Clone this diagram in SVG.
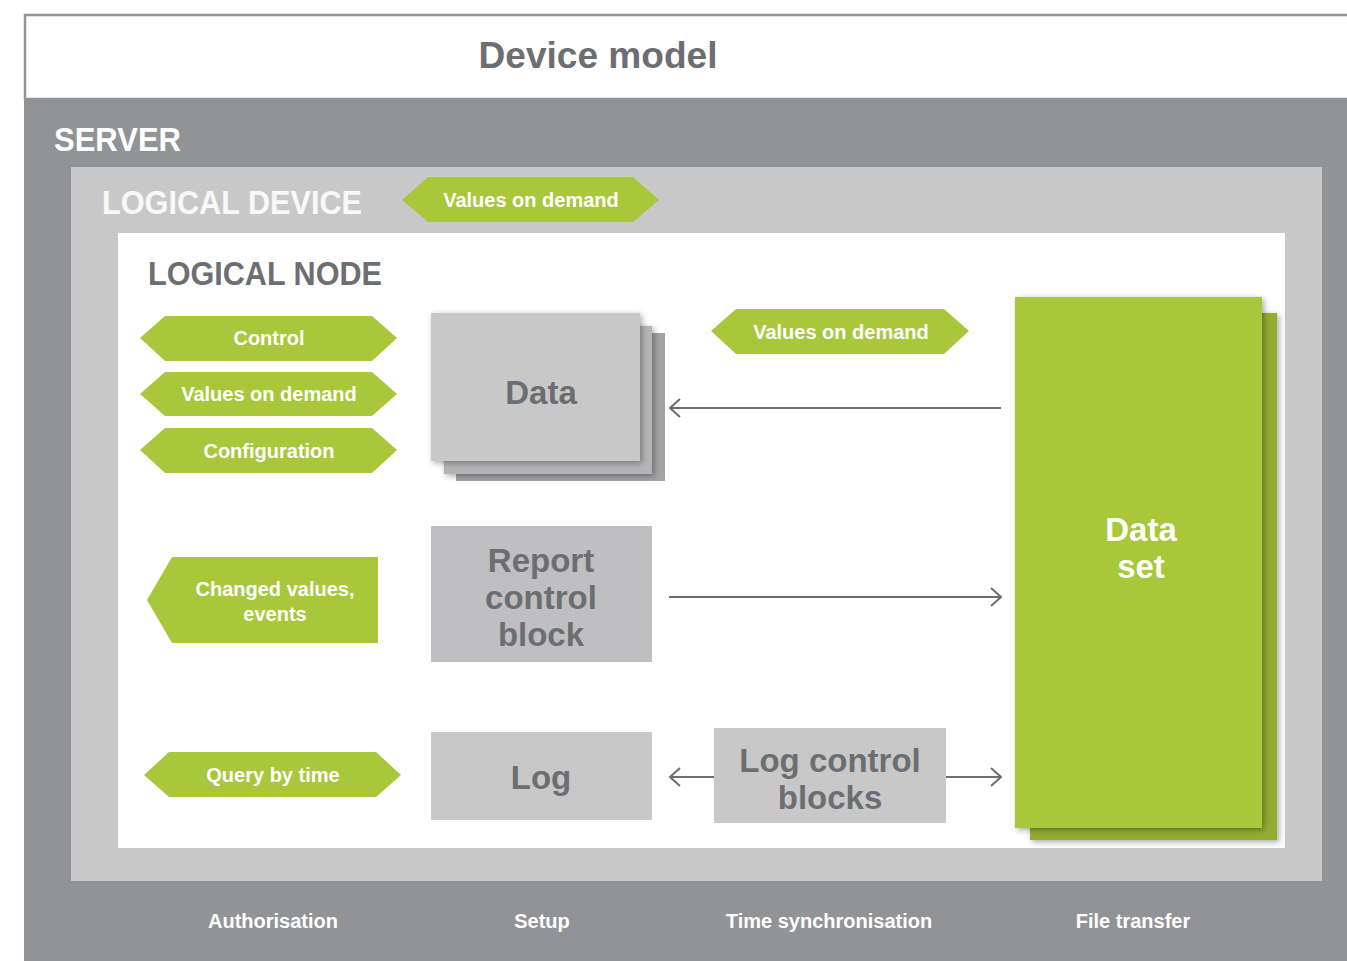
<svg xmlns="http://www.w3.org/2000/svg" width="1347" height="961" viewBox="0 0 1347 961">
<style>
.t{font-family:"Liberation Sans",Arial,sans-serif;font-weight:bold}
.w{fill:#ffffff}
.d{fill:#6d6e71}
.hex{fill:#a8c73a}
.box{fill:#c8c8c8}
.conn{stroke:#6d6e71;stroke-width:2;fill:none}
</style>
<defs>
<filter id="sh" x="-10%" y="-10%" width="130%" height="130%">
<feGaussianBlur in="SourceAlpha" stdDeviation="3"/>
<feOffset dx="2" dy="2" result="b"/>
<feComponentTransfer><feFuncA type="linear" slope="0.35"/></feComponentTransfer>
<feMerge><feMergeNode/><feMergeNode in="SourceGraphic"/></feMerge>
</filter>
<marker id="ah" viewBox="0 0 12 20" refX="11" refY="10" markerWidth="12" markerHeight="20" markerUnits="userSpaceOnUse" orient="auto">
<path d="M1,1 L11,10 L1,19" fill="none" stroke="#6d6e71" stroke-width="2"/>
</marker>
</defs>
<rect x="0" y="0" width="1347" height="961" fill="#ffffff"/>
<g id="device-model">
<rect x="25" y="15" width="1330" height="84" fill="#ffffff" stroke="#939498" stroke-width="2.5"/>
<text class="t d" x="598" y="68" font-size="37" text-anchor="middle" textLength="239" lengthAdjust="spacingAndGlyphs">Device model</text>
</g>
<g id="server">
<rect x="24" y="98" width="1323" height="863" fill="#929397"/>
<text class="t w" x="54" y="151" font-size="33" textLength="127" lengthAdjust="spacingAndGlyphs">SERVER</text>
<text class="t w" x="273" y="928" font-size="20" text-anchor="middle">Authorisation</text>
<text class="t w" x="542" y="928" font-size="20" text-anchor="middle">Setup</text>
<text class="t w" x="829" y="928" font-size="20" text-anchor="middle">Time synchronisation</text>
<text class="t w" x="1133" y="928" font-size="20" text-anchor="middle">File transfer</text>
</g>
<g id="logical-device">
<rect x="71" y="167" width="1251" height="714" fill="#c8c8c8"/>
<text class="t" fill="#f8f8f8" x="102" y="214" font-size="33" textLength="260" lengthAdjust="spacingAndGlyphs">LOGICAL DEVICE</text>
</g>
<g id="ld-values-on-demand">
<polygon class="hex" points="402,200 428,177 633,177 659,200 633,222 428,222"/>
<text class="t w" x="531" y="207" font-size="20" text-anchor="middle">Values on demand</text>
</g>
<g id="logical-node">
<rect x="118" y="233" width="1167" height="615" fill="#ffffff"/>
<text class="t d" x="148" y="285" font-size="33" textLength="234" lengthAdjust="spacingAndGlyphs">LOGICAL NODE</text>
</g>
<g id="control">
<polygon class="hex" points="140,338 165,316 372,316 397,338 372,361 165,361"/>
<text class="t w" x="269" y="345" font-size="20" text-anchor="middle">Control</text>
</g>
<g id="values-on-demand-left">
<polygon class="hex" points="140,394 165,372 372,372 397,394 372,416 165,416"/>
<text class="t w" x="269" y="401" font-size="20" text-anchor="middle">Values on demand</text>
</g>
<g id="configuration">
<polygon class="hex" points="140,450 165,428 372,428 397,450 372,473 165,473"/>
<text class="t w" x="269" y="458" font-size="20" text-anchor="middle">Configuration</text>
</g>
<g id="data">
<rect x="456" y="333" width="209" height="148" fill="#a2a3a5"/>
<rect x="444" y="326" width="208" height="148" fill="#b4b4b6" filter="url(#sh)"/>
<rect x="431" y="313" width="209" height="148" fill="#c8c8c8" filter="url(#sh)"/>
<text class="t d" x="541" y="404" font-size="33" text-anchor="middle">Data</text>
</g>
<g id="values-on-demand-right">
<polygon class="hex" points="711,331 736,309 944,309 969,331 944,354 736,354"/>
<text class="t w" x="841" y="339" font-size="20" text-anchor="middle">Values on demand</text>
</g>
<g id="data-set">
<rect x="1030" y="313" width="247" height="527" fill="#93ad33" filter="url(#sh)"/>
<rect x="1015" y="297" width="247" height="531" fill="#a8c73a" filter="url(#sh)"/>
<text class="t w" x="1141" y="541" font-size="33" text-anchor="middle">Data</text>
<text class="t w" x="1141" y="578" font-size="33" text-anchor="middle">set</text>
</g>
<g id="changed-values">
<polygon class="hex" points="147,600 172,557 378,557 378,643 172,643"/>
<text class="t w" x="275" y="596" font-size="20" text-anchor="middle">Changed values,</text>
<text class="t w" x="275" y="621" font-size="20" text-anchor="middle">events</text>
</g>
<g id="report-control-block">
<rect x="431" y="526" width="221" height="136" fill="#bfbfc1"/>
<text class="t d" x="541" y="572" font-size="33" text-anchor="middle">Report</text>
<text class="t d" x="541" y="609" font-size="33" text-anchor="middle">control</text>
<text class="t d" x="541" y="646" font-size="33" text-anchor="middle">block</text>
</g>
<g id="query-by-time">
<polygon class="hex" points="144,775 169,752 376,752 401,775 376,797 169,797"/>
<text class="t w" x="273" y="782" font-size="20" text-anchor="middle">Query by time</text>
</g>
<g id="log">
<rect x="431" y="732" width="221" height="88" fill="#c8c8c8"/>
<text class="t d" x="541" y="789" font-size="33" text-anchor="middle">Log</text>
</g>
<g id="log-control-blocks">
<rect x="714" y="728" width="232" height="95" fill="#c8c8c8"/>
<text class="t d" x="830" y="772" font-size="33" text-anchor="middle">Log control</text>
<text class="t d" x="830" y="809" font-size="33" text-anchor="middle">blocks</text>
</g>
<g id="connectors">
<line class="conn" x1="1001" y1="408" x2="670" y2="408" marker-end="url(#ah)"/>
<line class="conn" x1="669" y1="597" x2="1001" y2="597" marker-end="url(#ah)"/>
<line class="conn" x1="714" y1="777" x2="670" y2="777" marker-end="url(#ah)"/>
<line class="conn" x1="946" y1="777" x2="1001" y2="777" marker-end="url(#ah)"/>
</g>
</svg>
